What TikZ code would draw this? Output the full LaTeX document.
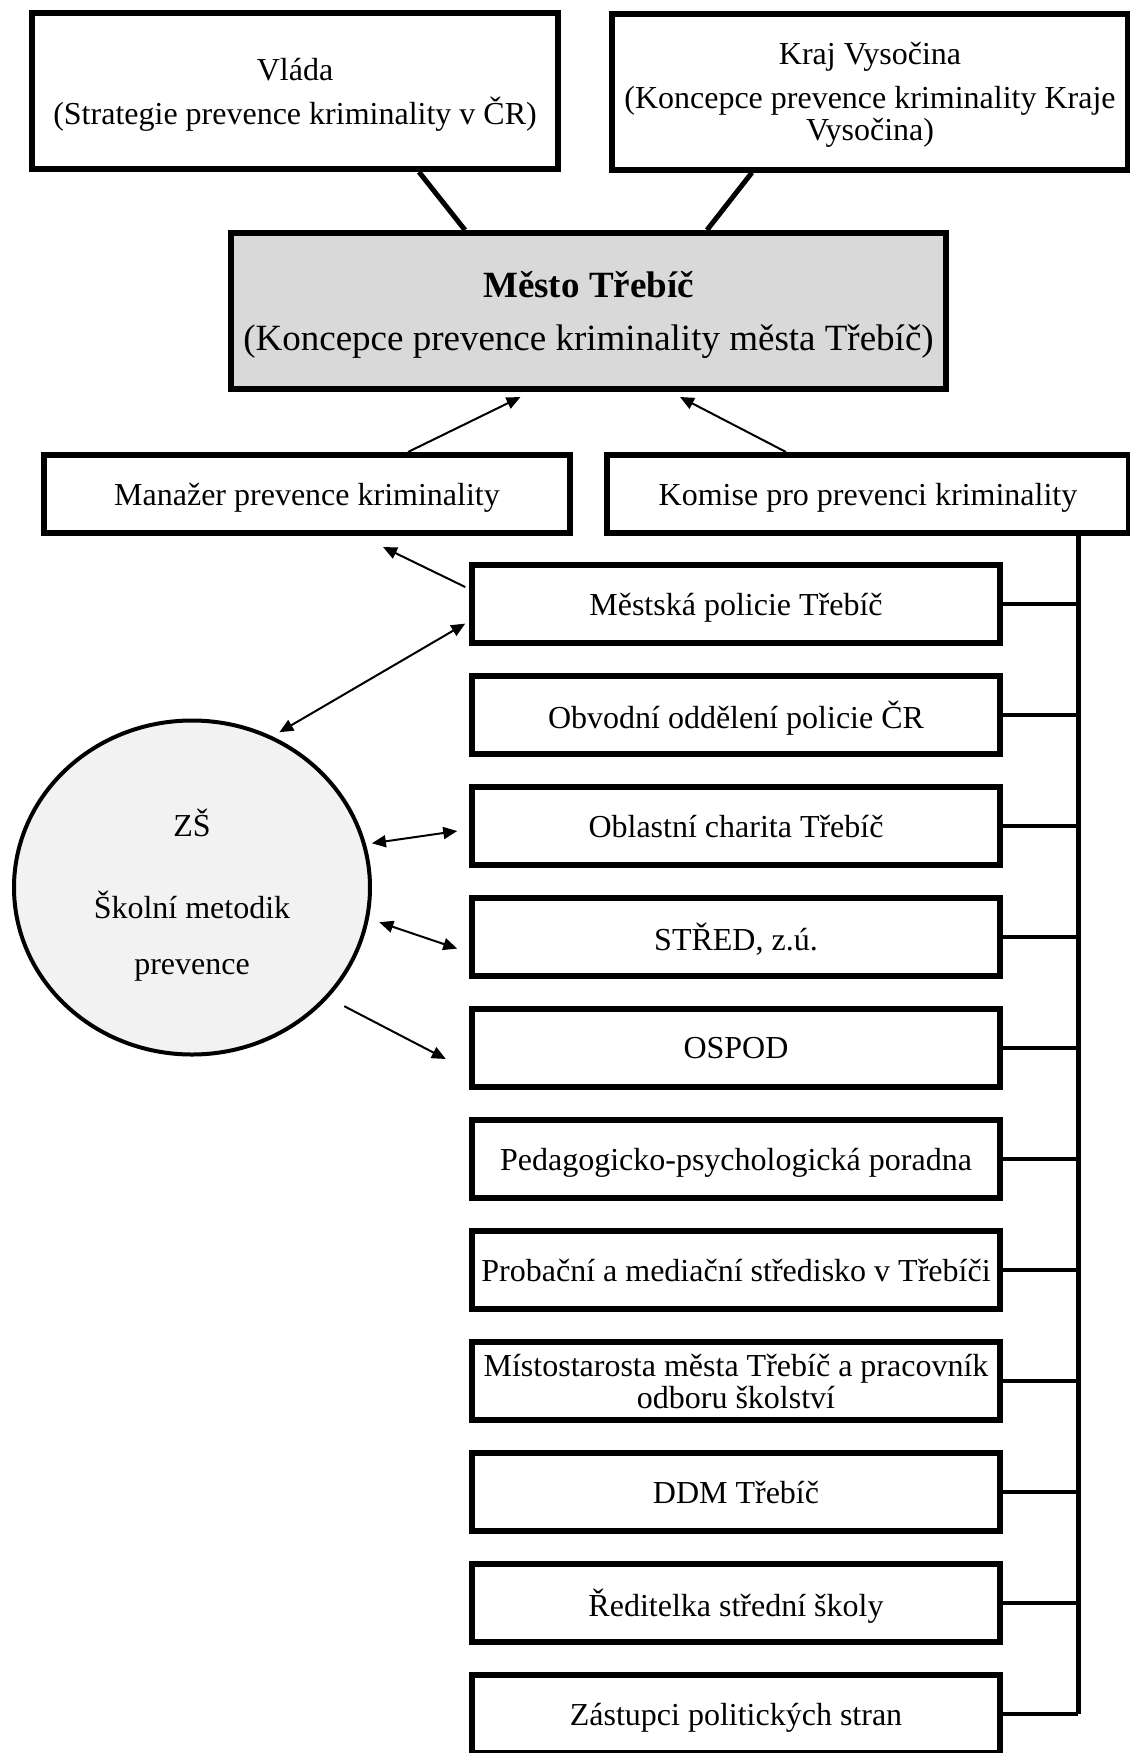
\documentclass[tikz,border=0pt]{standalone}
\usepackage{fontspec}
\setmainfont{Liberation Serif}
\usetikzlibrary{arrows.meta,shapes.geometric,shadows}
\definecolor{mestogray}{RGB}{217,217,217}
\definecolor{zsgray}{RGB}{242,242,242}
\begin{document}
\begin{tikzpicture}[x=0.5pt,y=-0.5pt,
  box/.style={draw,line width=3pt,fill=white,align=center,inner sep=2pt,text depth=0pt,font=\fontsize{16}{16}\selectfont,drop shadow={shadow xshift=1pt,shadow yshift=-1.5pt,opacity=0.2}},
  member/.style={box,minimum width=263.75pt,minimum height=39pt},
  link/.style={line width=1pt,-{Triangle[length=7pt,width=6pt]}},
  twoway/.style={line width=1pt,{Triangle[length=7pt,width=6pt]}-{Triangle[length=7pt,width=6pt]}}]
\useasboundingbox (0,0) rectangle (1130,1753);
% top level
\node[box,minimum width=263pt,minimum height=78pt] at (295,91) (vlada) {Vláda\\[6pt](Strategie prevence kriminality v ČR)};
\node[box,minimum width=258pt,minimum height=78pt] at (870,91.5) (kraj) {Kraj Vysočina\\[6pt](Koncepce prevence kriminality Kraje\\Vysočina)};
\node[box,fill=mestogray,minimum width=357.5pt,minimum height=78pt,font=\fontsize{18.5}{18.5}\selectfont] at (588.5,311) (mesto) {\textbf{Město Třebíč}\\[8pt](Koncepce prevence kriminality města Třebíč)};
\draw[line width=2.5pt] ([xshift=62pt]vlada.south) -- ([xshift=-61.75pt]mesto.north);
\draw[line width=2.5pt] ([xshift=-59pt]kraj.south) -- ([xshift=59.25pt]mesto.north);
% manazer + komise
\node[member,minimum width=262.75pt] at (307,494) (manazer) {Manažer prevence kriminality};
\node[member,minimum width=261pt] at (868,494) (komise) {Komise pro prevenci kriminality};
\draw[link] ([xshift=50.5pt]manazer.north) -- ([xshift=-34pt,yshift=-2.5pt]mesto.south);
\draw[link] ([xshift=-41pt]komise.north) -- ([xshift=45.75pt,yshift=-2.5pt]mesto.south);
% members of komise
\coordinate (bus) at (1078,0);
\foreach \i/\t in {1/{Městská policie Třebíč},2/{Obvodní oddělení policie ČR},3/{Oblastní charita Třebíč},4/{STŘED, z.ú.},5/{OSPOD},6/{Pedagogicko-psychologická poradna},7/{Probační a mediační středisko v Třebíči},8/{Místostarosta města Třebíč a pracovník\\odboru školství},9/{DDM Třebíč},10/{Ředitelka střední školy},11/{Zástupci politických stran}}{
  \node[member] at (736,{604+(\i-1)*111}) (r\i) {\t};
  \draw[line width=2pt] (r\i.east) -- (r\i.east -| bus);
}
\draw[line width=2.5pt] (komise.south -| bus) -- (r11.east -| bus);
% school
\node[ellipse,draw,line width=2pt,fill=zsgray,minimum width=178pt,minimum height=167pt,label={[align=center,yshift=-4pt,font=\fontsize{16}{16}\selectfont]center:ZŠ\\[25pt]Školní metodik\\[12pt]prevence}] at (192,887.5) (zs) {};
\draw[link] ([xshift=-2pt,yshift=8.5pt]r1.west) -- ([xshift=38pt,yshift=-5.5pt]manazer.south);
\draw[twoway,shorten >=4pt] ([xshift=-2pt,yshift=-9.8pt]r1.west) -- (zs.62);
\draw[twoway,shorten >=3pt] ([xshift=-6pt,yshift=-2.5pt]r3.west) -- (zs.14);
\draw[twoway,shorten >=5.5pt] ([xshift=-6pt,yshift=-5.8pt]r4.west) -- (zs.-10);
\draw[link,shorten <=9pt] (zs.-39) -- ([xshift=-11.7pt,yshift=-5.5pt]r5.west);
\end{tikzpicture}
\end{document}
